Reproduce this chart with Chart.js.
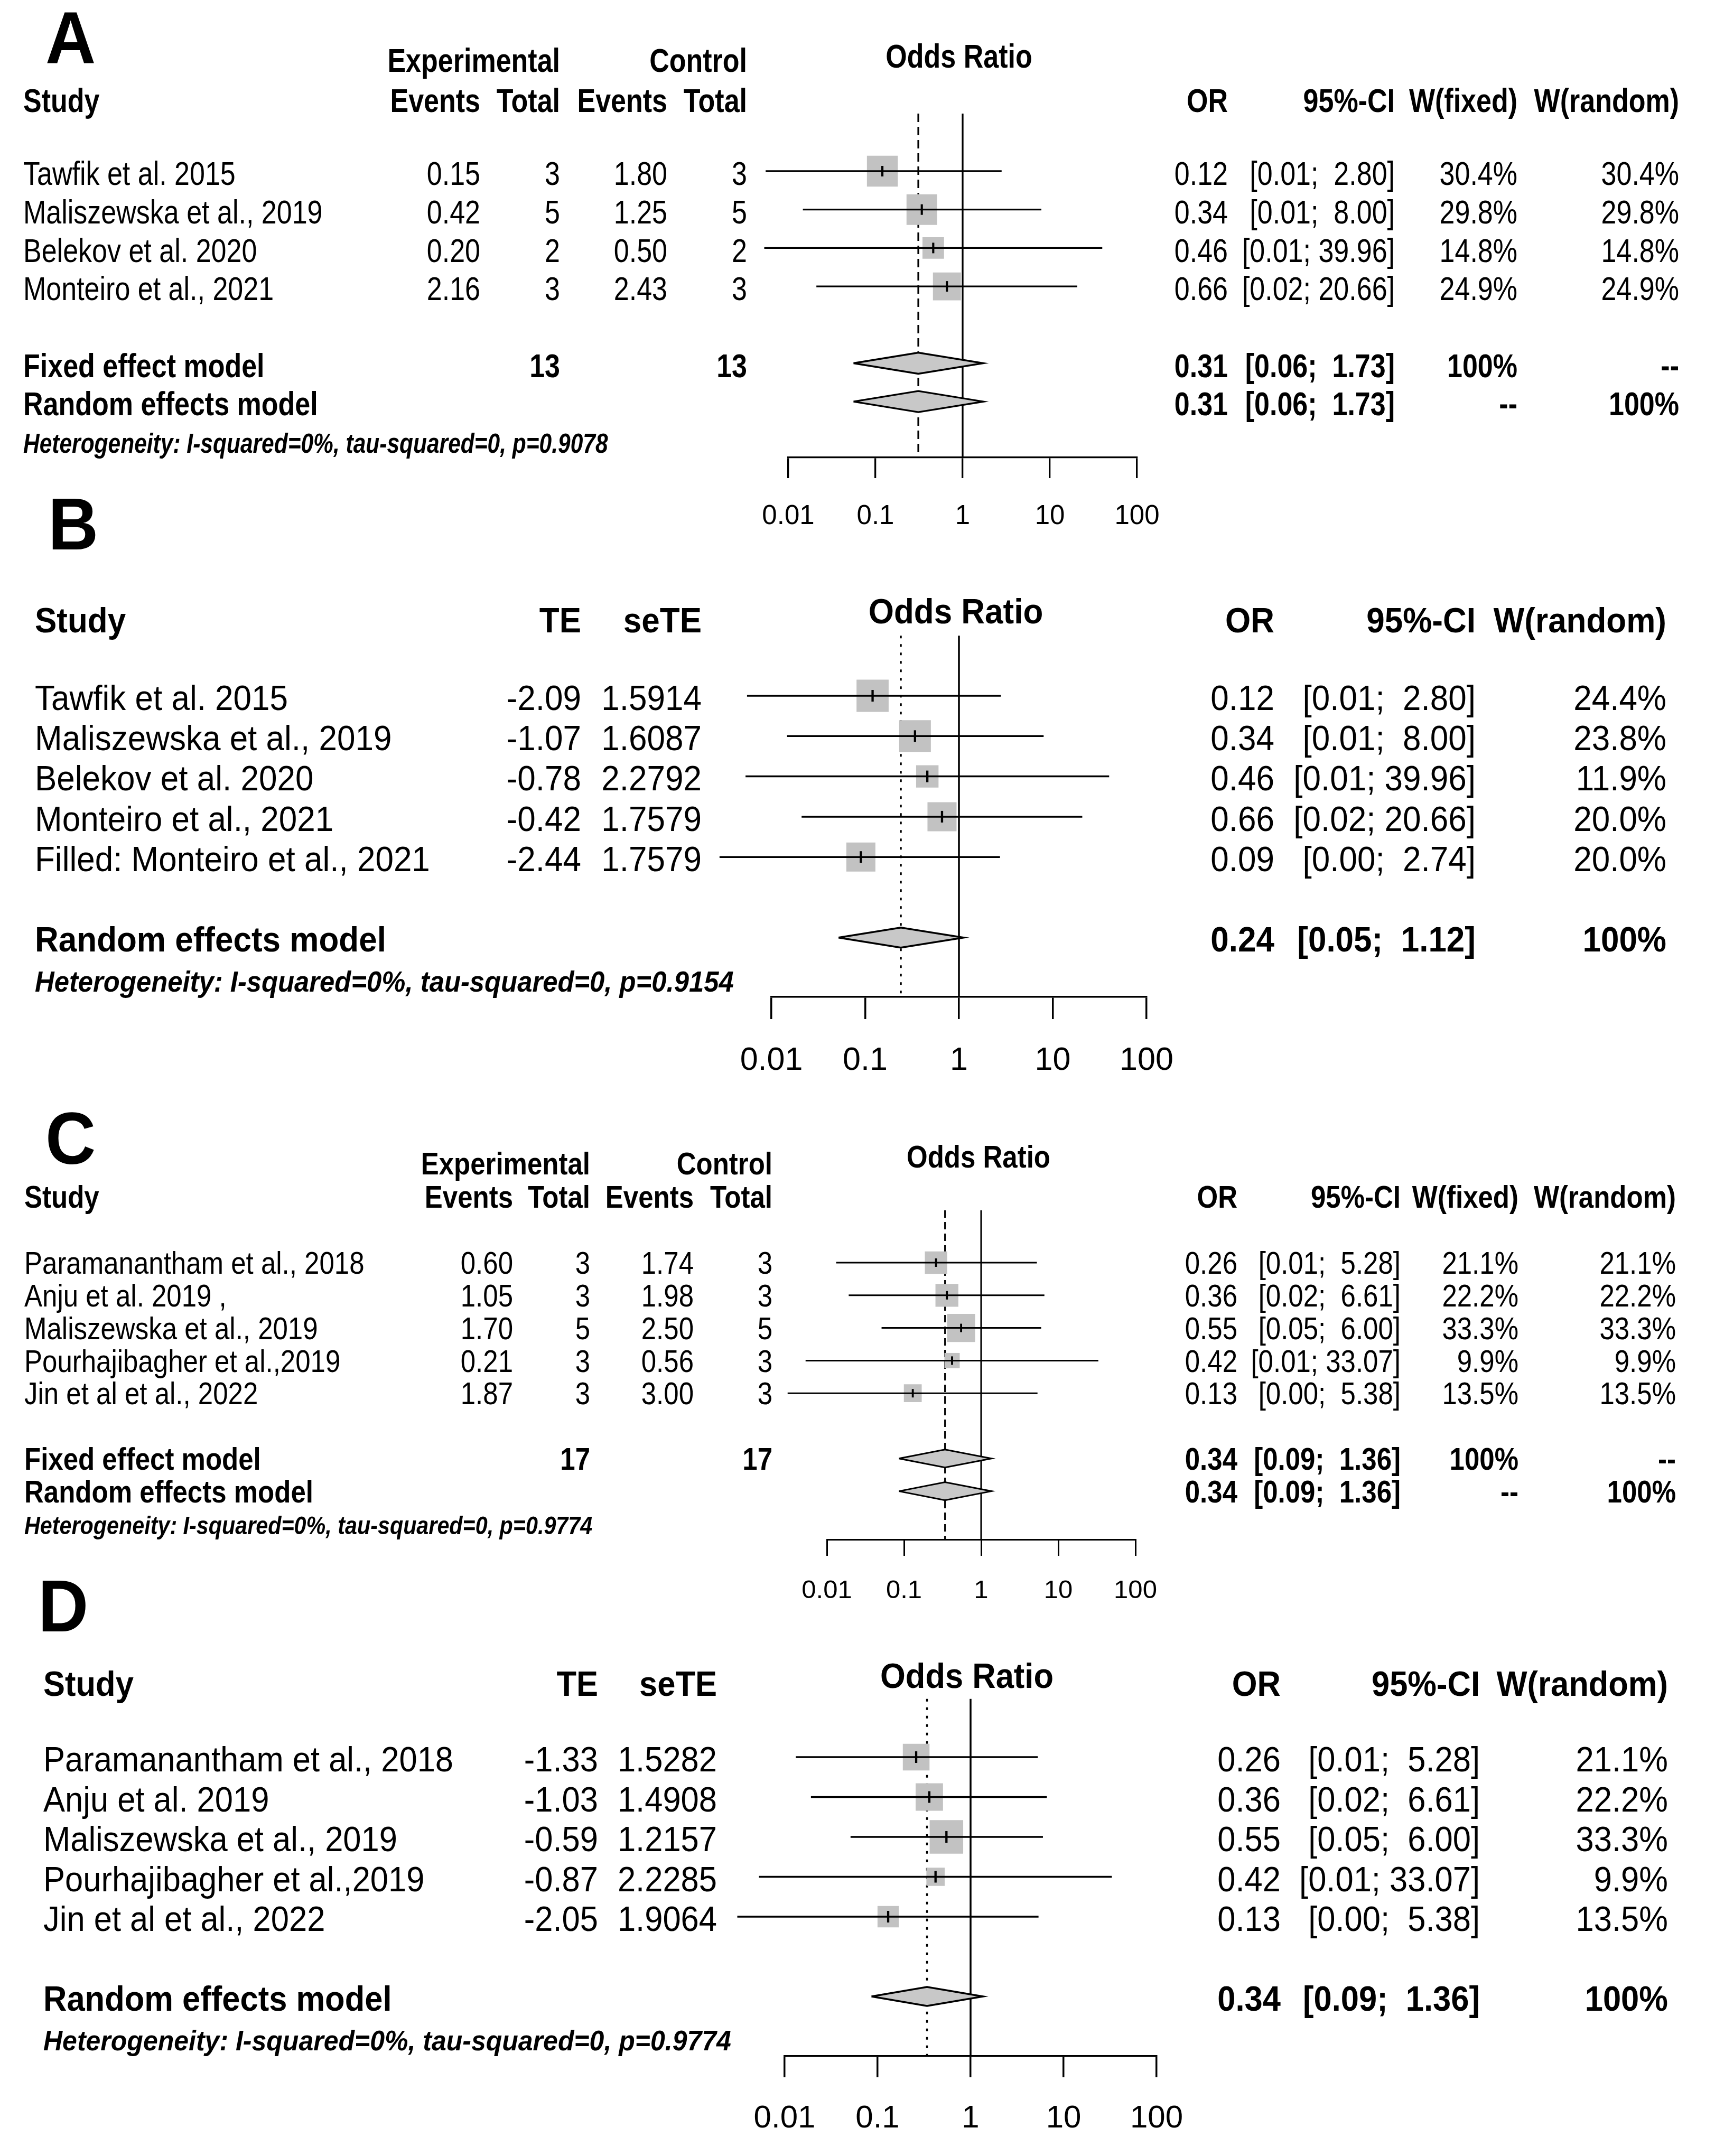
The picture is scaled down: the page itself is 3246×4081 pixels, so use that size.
<!DOCTYPE html>
<html>
<head>
<meta charset="utf-8">
<script src="https://cdn.jsdelivr.net/npm/chart.js@4.4.1/dist/chart.umd.min.js"></script>
<style>
  html, body { margin: 0; padding: 0; background: #fff; }
  #page { position: relative; width: 3246px; height: 4081px; overflow: hidden; background: #fff; }
  canvas { position: absolute; left: 0; }
</style>
</head>
<body>
<div id="page"></div>
<script>
// ---- data ----
const tickValues = [0.01, 0.1, 1, 10, 100];

// A: fixed + random model, events/totals
const studiesA = ['Tawfik et al. 2015', 'Maliszewska et al., 2019', 'Belekov et al. 2020', 'Monteiro et al., 2021'];
const expEventsA = [0.15, 0.42, 0.20, 2.16];
const expTotalA = [3, 5, 2, 3];
const ctlEventsA = [1.80, 1.25, 0.50, 2.43];
const ctlTotalA = [3, 5, 2, 3];
const orA = [0.12, 0.34, 0.46, 0.66];
const loA = [0.0055, 0.0147, 0.0053, 0.021];
const hiA = [2.80, 8.00, 39.96, 20.66];
const wFixedA = [30.4, 29.8, 14.8, 24.9];
const wRandomA = [30.4, 29.8, 14.8, 24.9];
const pooledA = [0.31, 0.056, 1.73];          // OR, lower, upper
const hetA = 'Heterogeneity: I-squared=0%, tau-squared=0, p=0.9078';

// B: trim-and-fill, random model
const studiesB = ['Tawfik et al. 2015', 'Maliszewska et al., 2019', 'Belekov et al. 2020', 'Monteiro et al., 2021', 'Filled: Monteiro et al., 2021'];
const teB = [-2.09, -1.07, -0.78, -0.42, -2.44];
const seTeB = [1.5914, 1.6087, 2.2792, 1.7579, 1.7579];
const orB = [0.12, 0.34, 0.46, 0.66, 0.09];
const loB = [0.0055, 0.0147, 0.0053, 0.021, 0.0028];
const hiB = [2.80, 8.00, 39.96, 20.66, 2.74];
const wRandomB = [24.4, 23.8, 11.9, 20.0, 20.0];
const pooledB = [0.24, 0.052, 1.12];
const hetB = 'Heterogeneity: I-squared=0%, tau-squared=0, p=0.9154';

// C: fixed + random model, events/totals
const studiesC = ['Paramanantham et al., 2018', 'Anju et al. 2019 ,', 'Maliszewska et al., 2019', 'Pourhajibagher et al.,2019', 'Jin et al et al., 2022'];
const expEventsC = [0.60, 1.05, 1.70, 0.21, 1.87];
const expTotalC = [3, 3, 5, 3, 3];
const ctlEventsC = [1.74, 1.98, 2.50, 0.56, 3.00];
const ctlTotalC = [3, 3, 5, 3, 3];
const orC = [0.26, 0.36, 0.55, 0.42, 0.13];
const loC = [0.0132, 0.0192, 0.0512, 0.0053, 0.0031];
const hiC = [5.28, 6.61, 6.00, 33.07, 5.38];
const wFixedC = [21.1, 22.2, 33.3, 9.9, 13.5];
const wRandomC = [21.1, 22.2, 33.3, 9.9, 13.5];
const pooledC = [0.34, 0.086, 1.36];
const hetC = 'Heterogeneity: I-squared=0%, tau-squared=0, p=0.9774';

// D: random model
const studiesD = ['Paramanantham et al., 2018', 'Anju et al. 2019', 'Maliszewska et al., 2019', 'Pourhajibagher et al.,2019', 'Jin et al et al., 2022'];
const teD = [-1.33, -1.03, -0.59, -0.87, -2.05];
const seTeD = [1.5282, 1.4908, 1.2157, 2.2285, 1.9064];
const orD = [0.26, 0.36, 0.55, 0.42, 0.13];
const loD = [0.0132, 0.0192, 0.0512, 0.0053, 0.0031];
const hiD = [5.28, 6.61, 6.00, 33.07, 5.38];
const wRandomD = [21.1, 22.2, 33.3, 9.9, 13.5];
const pooledD = [0.34, 0.086, 1.36];
const hetD = 'Heterogeneity: I-squared=0%, tau-squared=0, p=0.9774';

const FONT = "'Liberation Sans', Arial, Helvetica, sans-serif";
const SQ_GREY = '#c2c2c2';
const DIA_GREY = '#c8c8c8';

function ciText(lo, hi) {
  return '[' + lo.toFixed(2) + ';' + (hi < 10 ? '  ' : ' ') + hi.toFixed(2) + ']';
}
const sum = a => a.reduce((s, v) => s + v, 0);

// text columns for the panels with events/totals
function binaryItems(P) {
  const c = P.col, r = P.rows, it = [];
  const add = (s, x, row, align, w, kind) => it.push({ s, x, row, align, w: w || 'normal', kind: kind || 'main' });
  add('Experimental', c.expTot, r.grp, 'right', 'bold');
  add('Control', c.ctlTot, r.grp, 'right', 'bold');
  add('Odds Ratio', c.title, r.title, 'center', 'bold');
  add('Study', c.name, r.hdr, 'left', 'bold');
  add('Events', c.expEv, r.hdr, 'right', 'bold');
  add('Total', c.expTot, r.hdr, 'right', 'bold');
  add('Events', c.ctlEv, r.hdr, 'right', 'bold');
  add('Total', c.ctlTot, r.hdr, 'right', 'bold');
  add('OR', c.or, r.hdr, 'right', 'bold');
  add('95%-CI', c.ci, r.hdr, 'right', 'bold');
  add('W(fixed)', c.wf, r.hdr, 'right', 'bold');
  add('W(random)', c.wr, r.hdr, 'right', 'bold');
  P.studies.forEach((s, i) => {
    add(s, c.name, i, 'left');
    add(P.expEvents[i].toFixed(2), c.expEv, i, 'right');
    add(String(P.expTotal[i]), c.expTot, i, 'right');
    add(P.ctlEvents[i].toFixed(2), c.ctlEv, i, 'right');
    add(String(P.ctlTotal[i]), c.ctlTot, i, 'right');
    add(P.or[i].toFixed(2), c.or, i, 'right');
    add(ciText(P.lo[i], P.hi[i]), c.ci, i, 'right');
    add(P.wFixed[i].toFixed(1) + '%', c.wf, i, 'right');
    add(P.wRandom[i].toFixed(1) + '%', c.wr, i, 'right');
  });
  const pr = P.pooled;
  add('Fixed effect model', c.name, r.fixed, 'left', 'bold');
  add(String(sum(P.expTotal)), c.expTot, r.fixed, 'right', 'bold');
  add(String(sum(P.ctlTotal)), c.ctlTot, r.fixed, 'right', 'bold');
  add(pr[0].toFixed(2), c.or, r.fixed, 'right', 'bold');
  add(ciText(pr[1], pr[2]), c.ci, r.fixed, 'right', 'bold');
  add('100%', c.wf, r.fixed, 'right', 'bold');
  add('--', c.wr, r.fixed, 'right', 'bold');
  add('Random effects model', c.name, r.random, 'left', 'bold');
  add(pr[0].toFixed(2), c.or, r.random, 'right', 'bold');
  add(ciText(pr[1], pr[2]), c.ci, r.random, 'right', 'bold');
  add('--', c.wf, r.random, 'right', 'bold');
  add('100%', c.wr, r.random, 'right', 'bold');
  add(P.het, c.name, r.het, 'left', 'bold', 'het');
  return it;
}

// text columns for the TE / seTE panels
function teItems(P) {
  const c = P.col, r = P.rows, it = [];
  const add = (s, x, row, align, w, kind) => it.push({ s, x, row, align, w: w || 'normal', kind: kind || 'main' });
  add('Odds Ratio', c.title, r.title, 'center', 'bold');
  add('Study', c.name, r.hdr, 'left', 'bold');
  add('TE', c.te, r.hdr, 'right', 'bold');
  add('seTE', c.se, r.hdr, 'right', 'bold');
  add('OR', c.or, r.hdr, 'right', 'bold');
  add('95%-CI', c.ci, r.hdr, 'right', 'bold');
  add('W(random)', c.wr, r.hdr, 'right', 'bold');
  P.studies.forEach((s, i) => {
    add(s, c.name, i, 'left');
    add(P.te[i].toFixed(2), c.te, i, 'right');
    add(P.seTe[i].toFixed(4), c.se, i, 'right');
    add(P.or[i].toFixed(2), c.or, i, 'right');
    add(ciText(P.lo[i], P.hi[i]), c.ci, i, 'right');
    add(P.wRandom[i].toFixed(1) + '%', c.wr, i, 'right');
  });
  const pr = P.pooled;
  add('Random effects model', c.name, r.random, 'left', 'bold');
  add(pr[0].toFixed(2), c.or, r.random, 'right', 'bold');
  add(ciText(pr[1], pr[2]), c.ci, r.random, 'right', 'bold');
  add('100%', c.wr, r.random, 'right', 'bold');
  add(P.het, c.name, r.het, 'left', 'bold', 'het');
  return it;
}

function makePanel(P) {
  const cv = document.createElement('canvas');
  cv.width = 3246; cv.height = P.h;
  cv.style.top = P.top + 'px';
  cv.style.width = '3246px'; cv.style.height = P.h + 'px';
  document.getElementById('page').appendChild(cv);

  const axisRow = (P.axisY - P.row0) / P.step;
  const padTop = P.row0 + P.topRow * P.step - P.top;
  const dhRow = P.dh / P.step;
  const w = P.wSize;
  const pooledRows = P.pooledRows;
  const pr = P.pooled;

  const ds = [];
  // reference line at OR = 1
  ds.push({ data: [{ x: 1, y: P.topRow }, { x: 1, y: axisRow }], showLine: true, borderColor: '#000',
    borderWidth: P.lw, pointRadius: 0, order: 10, clip: false });
  // pooled estimate line
  ds.push({ data: [{ x: pr[0], y: P.topRow }, { x: pr[0], y: axisRow }], showLine: true, borderColor: '#000',
    borderDash: P.dash, borderWidth: P.lw, pointRadius: 0, order: 9, clip: false });
  // weight squares
  ds.push({ data: P.or.map((v, i) => ({ x: v, y: i })), pointStyle: 'rect',
    pointRadius: w.map(v => P.sq * Math.sqrt(v) / 1.4142), pointBackgroundColor: SQ_GREY,
    pointBorderWidth: 0, order: 6, clip: false });
  // confidence intervals
  P.or.forEach((v, i) => {
    ds.push({ data: [{ x: P.lo[i], y: i }, { x: P.hi[i], y: i }], showLine: true, borderColor: '#000',
      borderWidth: P.lw, pointRadius: 0, order: 4, clip: false });
  });
  // point estimate ticks
  ds.push({ data: P.or.map((v, i) => ({ x: v, y: i })), pointStyle: 'line', pointRotation: 90,
    pointRadius: P.tickR, pointBorderColor: '#000', pointBorderWidth: P.lw + 0.8, order: 3, clip: false });
  // pooled diamonds
  pooledRows.forEach(r => {
    ds.push({ data: [{ x: pr[1], y: r }, { x: pr[0], y: r - dhRow }, { x: pr[2], y: r }, { x: pr[0], y: r + dhRow }, { x: pr[1], y: r }],
      showLine: true, fill: 'shape', backgroundColor: DIA_GREY, borderColor: '#000', borderWidth: P.lw,
      pointRadius: 0, order: 1, clip: false });
  });

  const items = P.kind === 'binary' ? binaryItems(P) : teItems(P);
  const textPlugin = {
    id: 'forestText' + P.letter,
    afterDraw(chart) {
      const ctx = chart.ctx;
      const ys = chart.scales.y;
      ctx.save();
      ctx.fillStyle = '#000';
      ctx.textBaseline = 'middle';
      items.forEach(t => {
        const size = t.kind === 'het' ? P.hetFs : P.fs;
        ctx.font = (t.kind === 'het' ? 'italic ' : '') + t.w + ' ' + size + 'px ' + FONT;
        ctx.textAlign = t.align;
        ctx.save();
        ctx.translate(t.x, ys.getPixelForValue(t.row) + P.textDy);
        ctx.scale(1, P.textSy);   // the original lettering is a little taller than wide
        ctx.fillText(t.s, 0, 0);
        ctx.restore();
      });
      ctx.textBaseline = 'alphabetic';
      ctx.textAlign = 'left';
      ctx.font = 'bold ' + P.letterFs + 'px ' + FONT;
      ctx.save();
      ctx.translate(P.letterX, P.letterY - P.top);
      ctx.scale(1, 1.05);
      ctx.fillText(P.letter, 0, 0);
      ctx.restore();
      ctx.restore();
    }
  };

  new Chart(cv.getContext('2d'), {
    type: 'scatter',
    data: { datasets: ds },
    options: {
      responsive: false, animation: false, events: [], devicePixelRatio: 1,
      layout: { padding: { left: P.x01, right: 3246 - P.x100, top: padTop, bottom: 0 } },
      plugins: { legend: { display: false }, tooltip: { enabled: false } },
      scales: {
        x: {
          type: 'logarithmic', min: 0.01, max: 100, position: 'bottom',
          afterBuildTicks: s => { s.ticks = tickValues.map(v => ({ value: v })); },
          afterFit: s => { s.height = P.top + P.h - P.axisY; },
          grid: { drawOnChartArea: false, drawTicks: true, tickLength: P.tickLen, color: '#000', lineWidth: P.lw },
          border: { display: true, color: '#000', width: P.lw },
          ticks: { color: '#000', font: { family: FONT, size: P.tickFs }, padding: P.tickPad,
            maxRotation: 0, autoSkip: false, callback: v => String(v) }
        },
        y: { type: 'linear', reverse: true, min: P.topRow, max: axisRow, display: false }
      }
    },
    plugins: [textPlugin]
  });
}

makePanel({
  kind: 'binary', letter: 'A', letterX: 86, letterY: 120, letterFs: 132, textDy: 9, textSy: 1.2,
  top: 0, h: 1035, row0: 324, step: 72.7, topRow: -1.5, axisY: 866, x01: 1492, x100: 2152,
  tickLen: 39, tickPad: 42, fs: 52, hetFs: 42.5, tickFs: 51, sq: 10.6, dh: 20, dash: [16, 9], lw: 3.3, tickR: 10,
  col: { name: 44, expEv: 909, expTot: 1060, ctlEv: 1263, ctlTot: 1414, or: 2324, ci: 2640, wf: 2872, wr: 3178, title: 1815 },
  rows: { grp: -2.95, title: -3.05, hdr: -1.9, fixed: 5, random: 6, het: 7.02 },
  studies: studiesA, expEvents: expEventsA, expTotal: expTotalA, ctlEvents: ctlEventsA, ctlTotal: ctlTotalA,
  or: orA, lo: loA, hi: hiA, wFixed: wFixedA, wRandom: wRandomA, wSize: wFixedA,
  pooled: pooledA, pooledRows: [5, 6], het: hetA
});

makePanel({
  kind: 'te', letter: 'B', letterX: 91, letterY: 1040, letterFs: 132, textDy: 8, textSy: 1.09,
  top: 900, h: 1160, row0: 1317, step: 76.3, topRow: -1.49, axisY: 1887, x01: 1460, x100: 2170,
  tickLen: 42, tickPad: 43, fs: 62, hetFs: 50.8, tickFs: 61, sq: 12.3, dh: 19, dash: [5, 11], lw: 3.5, tickR: 11,
  col: { name: 66, te: 1100, se: 1328, or: 2412, ci: 2793, wr: 3154, title: 1809 },
  rows: { title: -2.15, hdr: -1.92, random: 6, het: 7.03 },
  studies: studiesB, te: teB, seTe: seTeB,
  or: orB, lo: loB, hi: hiB, wRandom: wRandomB, wSize: wRandomB,
  pooled: pooledB, pooledRows: [6], het: hetB
});

makePanel({
  kind: 'binary', letter: 'C', letterX: 86, letterY: 2203, letterFs: 132, textDy: 5, textSy: 1.15,
  top: 2060, h: 990, row0: 2390, step: 61.8, topRow: -1.6, axisY: 2914, x01: 1565, x100: 2149,
  tickLen: 31, tickPad: 37, fs: 51, hetFs: 41.3, tickFs: 49, sq: 9.2, dh: 17, dash: [14, 8], lw: 3.0, tickR: 8,
  col: { name: 46, expEv: 971, expTot: 1117, ctlEv: 1313, ctlTot: 1462, or: 2342, ci: 2651, wf: 2874, wr: 3172, title: 1852 },
  rows: { grp: -3.05, title: -3.25, hdr: -2.02, fixed: 6, random: 7, het: 8.02 },
  studies: studiesC, expEvents: expEventsC, expTotal: expTotalC, ctlEvents: ctlEventsC, ctlTotal: ctlTotalC,
  or: orC, lo: loC, hi: hiC, wFixed: wFixedC, wRandom: wRandomC, wSize: wFixedC,
  pooled: pooledC, pooledRows: [6, 7], het: hetC
});

makePanel({
  kind: 'te', letter: 'D', letterX: 72, letterY: 3088, letterFs: 132, textDy: 9, textSy: 1.09,
  top: 2960, h: 1121, row0: 3326, step: 75.5, topRow: -1.46, axisY: 3892, x01: 1485, x100: 2189,
  tickLen: 40, tickPad: 42, fs: 61.5, hetFs: 50, tickFs: 60, sq: 11, dh: 18, dash: [5, 11], lw: 3.5, tickR: 11,
  col: { name: 82, te: 1132, se: 1357, or: 2424, ci: 2801, wr: 3157, title: 1830 },
  rows: { title: -2.1, hdr: -1.9, random: 6, het: 7.03 },
  studies: studiesD, te: teD, seTe: seTeD,
  or: orD, lo: loD, hi: hiD, wRandom: wRandomD, wSize: wRandomD,
  pooled: pooledD, pooledRows: [6], het: hetD
});
</script>
</body>
</html>
